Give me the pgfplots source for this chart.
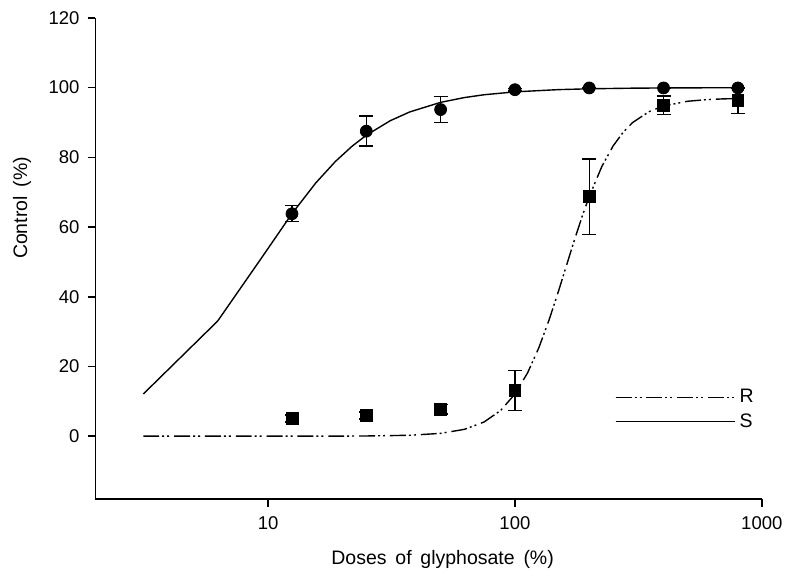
\documentclass[border=0pt]{standalone}
\usepackage{fontspec}
\setmainfont{Liberation Sans}
\usepackage{pgfplots}
\pgfplotsset{compat=1.18}
\newcommand{\ws}{\hskip0.45em\relax}
\begin{document}
\begin{tikzpicture}
\begin{axis}[
    width=335pt, height=242pt, scale only axis,
    clip=false,
    xmode=log, xmin=2, xmax=1000,
    ymin=-18.1, ymax=120,
    axis x line=bottom, axis y line=left,
    axis line style={-, line width=0.8pt},
    xtick={10,100,1000}, xticklabels={10,100,1000},
    ytick={0,20,40,60,80,100,120},
    xminorticks=false,
    tick align=outside, major tick length=4pt,
    tick style={line width=0.8pt, black},
    tick label style={font=\fontsize{9.3}{11}\selectfont},
    xticklabel style={yshift=-1pt},
    yticklabel style={xshift=-0.5pt},
    /pgf/number format/assume math mode=true,
    xlabel={Doses\ws of\ws glyphosate\ws (\%)},
    ylabel={Control\ws (\%)},
    label style={font=\fontsize{9.8}{12}\selectfont},
    xlabel style={at={(rel axis cs:0.521,-0.136)}, anchor=base},
    ylabel style={at={(rel axis cs:-0.11,0.605)}, anchor=center},
    legend style={at={(rel axis cs:0.779,0.238)}, anchor=north west,
        draw=none, fill=none, font=\fontsize{9.8}{12}\selectfont,
        row sep=0pt, inner sep=0pt},
    legend cell align=left,
    legend image code/.code={\path (0pt,0pt) -- (60pt,0pt);
        \draw[#1] (0pt,0pt) -- (50pt,0pt);},
]
% page frame, matches the reference's margins
\path (rel axis cs:-0.1433,-0.1426) rectangle (rel axis cs:1.0343,1.0372);
% fitted curve, R
\addplot[black, line width=0.7pt, dash pattern=on 8pt off 1.5pt on 1pt off 1.5pt on 1pt off 2.5pt] coordinates {
    (3.125,0) (6.25,0) (12.5,0) (18.75,0.01) (25,0.05) (37.5,0.25) (50,0.80)
    (62.5,1.96) (75,4.06) (87.5,7.36) (100,12.06) (112.5,18.14) (125,25.37)
    (137.5,33.34) (150,41.51) (162.5,49.43) (175,56.71) (187.5,63.17) (200,68.75)
    (225,77.39) (250,83.29) (275,87.28) (300,89.99) (350,93.14) (400,94.73)
    (500,96.08) (600,96.56) (700,96.77) (800,96.86)
};
\addlegendentry{R}
% fitted curve, S
\addplot[black, line width=0.7pt] coordinates {
    (3.125,12.10) (6.25,33.02) (9.375,50.97) (12.5,63.83) (15.625,72.69)
    (18.75,78.82) (21.875,83.16) (25,86.33) (31.25,90.50) (37.5,93.02)
    (50,95.77) (62.5,97.15) (75,97.95) (100,98.78) (150,99.42) (200,99.66)
    (300,99.84) (400,99.90) (600,99.95) (800,99.97)
};
\addlegendentry{S}
% observed, S
\addplot[black, only marks, mark=*, mark size=3pt, forget plot,
    error bars/.cd, y dir=both, y explicit,
    error bar style={line width=0.7pt, black},
    error mark options={rotate=90, mark size=3.5pt, line width=0.7pt, black}]
coordinates {
    (12.5,63.8) +- (0,2.3)
    (25,87.5) +- (0,4.3)
    (50,93.7) +- (0,3.7)
    (100,99.4) +- (0,0.4)
    (200,99.9) +- (0,0.1)
    (400,99.9) +- (0,0.1)
    (800,99.9) +- (0,0.1)
};
% observed, R
\addplot[black, only marks, mark=square*, mark size=3pt, forget plot,
    error bars/.cd, y dir=both, y explicit,
    error bar style={line width=0.7pt, black},
    error mark options={rotate=90, mark size=3.5pt, line width=0.7pt, black}]
coordinates {
    (12.5,5.1) +- (0,1.0)
    (25,5.9) +- (0,1.0)
    (50,7.7) +- (0,1.3)
    (100,13.1) +- (0,5.7)
    (200,68.7) +- (0,10.8)
    (400,94.9) +- (0,2.7)
    (800,96.2) +- (0,3.6)
};
\end{axis}
\end{tikzpicture}
\end{document}
